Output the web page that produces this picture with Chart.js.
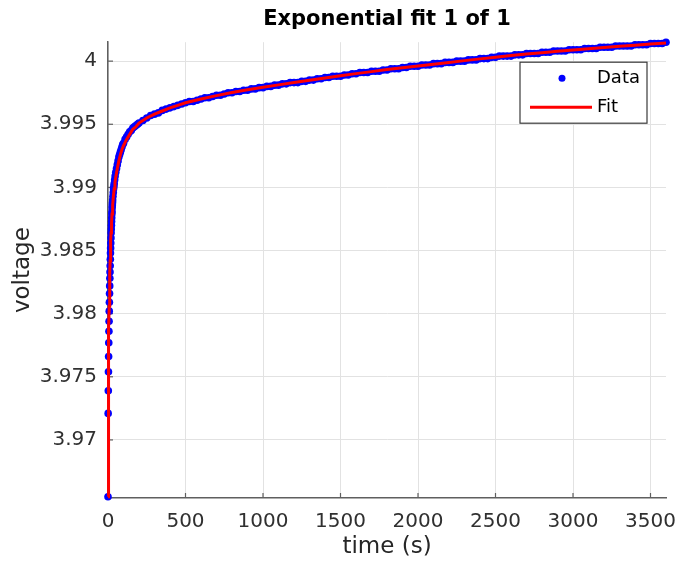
<!DOCTYPE html>
<html>
<head>
<meta charset="utf-8">
<script src="https://cdn.jsdelivr.net/npm/chart.js@4.4.1/dist/chart.umd.min.js"></script>
<style>
html,body{margin:0;padding:0;background:#fff;}
#wrap{width:677px;height:569px;}
</style>
</head>
<body>
<div id="wrap"><canvas id="c" width="677" height="569"></canvas></div>
<script>
// ---- data ----
const dataTime = [
  0,1,2,3,4,5,6,7,8,9,10,11,12,13,14,15,16,17,18,19,20,21,22,23,24,25,26,27,28,29,30,
  32,34,36,38,40,43,46,50,
  55,60,65,70,75,80,85,90,95,100,
  110,120,130,140,150,160,170,180,190,200,
  225,250,275,300,325,350,375,400,425,450,
  475,500,525,550,575,600,625,650,675,700,
  725,750,775,800,825,850,875,900,925,950,
  975,1000,1025,1050,1075,1100,1125,1150,1175,1200,
  1225,1250,1275,1300,1325,1350,1375,1400,1425,1450,
  1475,1500,1525,1550,1575,1600,1625,1650,1675,1700,
  1725,1750,1775,1800,1825,1850,1875,1900,1925,1950,
  1975,2000,2025,2050,2075,2100,2125,2150,2175,2200,
  2225,2250,2275,2300,2325,2350,2375,2400,2425,2450,
  2475,2500,2525,2550,2575,2600,2625,2650,2675,2700,
  2725,2750,2775,2800,2825,2850,2875,2900,2925,2950,
  2975,3000,3025,3050,3075,3100,3125,3150,3175,3200,
  3225,3250,3275,3300,3325,3350,3375,3400,3425,3450,
  3475,3500,3525,3550,3575,3600
];
const dataVoltage = [
  3.9655,3.9721,3.9739,3.9754,3.9766,3.9777,3.9786,3.9794,3.9802,3.9809,3.9816,3.9822,3.9828,3.9833,3.9838,3.9843,
  3.9848,3.9852,3.9856,3.9860,3.9864,3.9867,3.9870,3.9873,3.9876,3.9879,3.9881,3.9884,3.9886,3.9888,3.9890,
  3.9893,3.9896,3.9899,3.9901,3.9903,3.9906,3.9909,3.9912,
  3.9915,3.9918,3.9921,3.9924,3.9926,3.9928,3.9930,3.9932,3.9934,3.9935,
  3.9938,3.9940,3.9942,3.9944,3.9945,3.9947,3.9948,3.9949,3.9950,3.9951,
  3.9953,3.9955,3.9957,3.9958,3.9959,3.9961,3.9962,3.9963,3.9964,3.9965,
  3.9966,3.9967,3.9968,3.9968,3.9969,3.9970,3.9971,3.9971,3.9972,3.9973,
  3.9973,3.9974,3.9975,3.9975,3.9976,3.9976,3.9977,3.9977,3.9978,3.9978,
  3.9979,3.9979,3.9980,3.9980,3.9981,3.9981,3.9982,3.9982,3.9983,3.9983,
  3.9983,3.9984,3.9984,3.9985,3.9985,3.9986,3.9986,3.9987,3.9987,3.9988,
  3.9988,3.9988,3.9989,3.9989,3.9990,3.9990,3.9991,3.9991,3.9991,3.9992,
  3.9992,3.9992,3.9993,3.9993,3.9994,3.9994,3.9994,3.9995,3.9995,3.9996,
  3.9996,3.9996,3.9997,3.9997,3.9997,3.9998,3.9998,3.9998,3.9999,3.9999,
  3.9999,4.0000,4.0000,4.0000,4.0001,4.0001,4.0001,4.0002,4.0002,4.0002,
  4.0003,4.0003,4.0004,4.0004,4.0004,4.0004,4.0005,4.0005,4.0005,4.0006,
  4.0006,4.0006,4.0006,4.0007,4.0007,4.0007,4.0008,4.0008,4.0008,4.0008,
  4.0009,4.0009,4.0009,4.0009,4.0010,4.0010,4.0010,4.0010,4.0011,4.0011,
  4.0011,4.0011,4.0012,4.0012,4.0012,4.0012,4.0012,4.0013,4.0013,4.0013,
  4.0013,4.0014,4.0014,4.0014,4.0014,4.0015
];
const fitTime = [
  0,1,2,3,4,5,6,8,10,12,14,16,18,20,23,26,30,35,40,45,50,60,70,80,90,100,
  120,140,160,180,200,250,300,350,400,450,500,
  600,700,800,900,1000,1100,1200,1300,1400,1500,
  1600,1700,1800,1900,2000,2100,2200,2300,2400,2500,
  2600,2700,2800,2900,3000,3100,3200,3300,3400,3500,3600
];
const fitVoltage = [
  3.9655,3.9700,3.9730,3.9750,3.9765,3.9777,3.9788,3.9806,3.9820,3.9832,3.9842,3.9851,3.9858,3.9864,
  3.9872,3.9879,3.9886,3.9893,3.9899,3.9904,3.9908,3.9915,3.9921,3.9926,3.9930,3.9933,
  3.9938,3.9942,3.9946,3.9948,3.9951,3.9955,3.9958,3.99605,3.9963,3.9965,3.9967,
  3.9970,3.99727,3.99752,3.99773,3.99793,3.99812,3.99830,3.99848,3.99866,3.99884,
  3.99901,3.99917,3.99933,3.99948,3.99962,3.99976,3.99990,4.00004,4.00018,4.00031,
  4.00044,4.00056,4.00067,4.00078,4.00089,4.00099,4.00108,4.00117,4.00126,4.00135,4.00143
];
const xTicks = [0,500,1000,1500,2000,2500,3000,3500];
const xTickLabels = ['0','500','1000','1500','2000','2500','3000','3500'];
const yTicks = [3.97,3.975,3.98,3.985,3.99,3.995,4];
const yTickLabels = ['3.97','3.975','3.98','3.985','3.99','3.995','4'];
const seriesLabels = ['Data','Fit'];
const titleText = 'Exponential fit 1 of 1';
const xTitle = 'time (s)';
const yTitle = 'voltage';

// ---- styling / plugins ----
const FONT = 'DejaVu Sans';
const AXIS_COLOR = '#5f5f5f';

const insideTicks = {
  id: 'insideTicks',
  beforeDatasetsDraw(chart) {
    const {ctx, chartArea: a, scales: {x, y}} = chart;
    ctx.save();
    ctx.strokeStyle = AXIS_COLOR;
    ctx.lineWidth = 1.2;
    xTicks.forEach(v => {
      const px = x.getPixelForValue(v);
      ctx.beginPath(); ctx.moveTo(px, a.bottom); ctx.lineTo(px, a.bottom - 5); ctx.stroke();
    });
    yTicks.forEach(v => {
      const py = y.getPixelForValue(v);
      ctx.beginPath(); ctx.moveTo(a.left, py); ctx.lineTo(a.left + 5, py); ctx.stroke();
    });
    ctx.restore();
  }
};

const legendBox = {
  id: 'legendBox',
  afterDatasetsDraw(chart) {
    const {ctx, chartArea: a} = chart;
    const ds = chart.data.datasets;
    const w = 127, h = 61;
    const x0 = a.right - 19 - w, y0 = a.top + 20;
    ctx.save();
    ctx.fillStyle = '#ffffff';
    ctx.fillRect(x0, y0, w, h);
    ctx.strokeStyle = '#3a3a3a';
    ctx.lineWidth = 1.2;
    ctx.strokeRect(x0, y0, w, h);
    ctx.font = '18px "' + FONT + '"';
    ctx.textBaseline = 'middle';
    ctx.textAlign = 'left';
    const r1 = y0 + 16;
    ctx.fillStyle = ds[0].backgroundColor;
    ctx.beginPath(); ctx.arc(x0 + 42, r1, 3.5, 0, Math.PI * 2); ctx.fill();
    ctx.fillStyle = '#000';
    ctx.fillText(ds[0].label, x0 + 77, r1);
    const r2 = y0 + 45;
    ctx.strokeStyle = ds[1].borderColor;
    ctx.lineWidth = 3;
    ctx.beginPath(); ctx.moveTo(x0 + 10, r2); ctx.lineTo(x0 + 72, r2); ctx.stroke();
    ctx.fillStyle = '#000';
    ctx.fillText(ds[1].label, x0 + 77, r2);
    ctx.restore();
  }
};

new Chart(document.getElementById('c'), {
  type: 'scatter',
  data: {
    datasets: [
      {
        label: seriesLabels[0],
        data: dataTime.map((t, i) => ({x: t, y: dataVoltage[i]})),
        backgroundColor: '#0000ff',
        borderColor: '#0000ff',
        borderWidth: 0,
        pointRadius: 3.8,
        pointHoverRadius: 3.8,
        showLine: false,
        clip: false,
        order: 1
      },
      {
        label: seriesLabels[1],
        data: fitTime.map((t, i) => ({x: t, y: fitVoltage[i]})),
        borderColor: '#ff0000',
        backgroundColor: '#ff0000',
        borderWidth: 3,
        pointRadius: 0,
        showLine: true,
        tension: 0,
        fill: false,
        clip: false,
        order: 0
      }
    ]
  },
  options: {
    responsive: false,
    animation: false,
    devicePixelRatio: 1,
    layout: {padding: {left: 0, right: 11, top: 0, bottom: 0}},
    plugins: {
      legend: {display: false},
      tooltip: {enabled: false},
      title: {
        display: true,
        text: titleText,
        fullSize: false,
        color: '#000000',
        font: {family: FONT, size: 21, weight: 'bold'},
        padding: {top: 7, bottom: 10}
      }
    },
    scales: {
      x: {
        type: 'linear',
        min: 0,
        max: 3600,
        afterBuildTicks: s => { s.ticks = xTicks.map(v => ({value: v})); },
        afterFit: s => { s.height = 71; s.paddingLeft = 0; s.paddingRight = 0; },
        grid: {color: '#e2e2e2', lineWidth: 1, drawTicks: false},
        border: {display: true, color: AXIS_COLOR, width: 1.5},
        ticks: {
          padding: 12, color: '#303030', autoSkip: false, maxRotation: 0, includeBounds: false,
          font: {family: FONT, size: 20},
          callback: (v, i) => xTickLabels[i]
        },
        title: {display: true, text: xTitle, color: '#262626', font: {family: FONT, size: 23}, padding: {top: 0, bottom: 8}}
      },
      y: {
        type: 'linear',
        min: 3.9654,
        max: 4.0015,
        afterBuildTicks: s => { s.ticks = yTicks.map(v => ({value: v})); },
        afterFit: s => { s.width = 108; s.paddingTop = 0; s.paddingBottom = 0; },
        grid: {color: '#e2e2e2', lineWidth: 1, drawTicks: false},
        border: {display: true, color: AXIS_COLOR, width: 1.5},
        ticks: {
          padding: 11, color: '#303030', autoSkip: false, includeBounds: false,
          font: {family: FONT, size: 20},
          callback: (v, i) => yTickLabels[i]
        },
        title: {display: true, text: yTitle, color: '#262626', font: {family: FONT, size: 23}, padding: {top: 9, bottom: 0}}
      }
    }
  },
  plugins: [insideTicks, legendBox]
});
</script>
</body>
</html>
